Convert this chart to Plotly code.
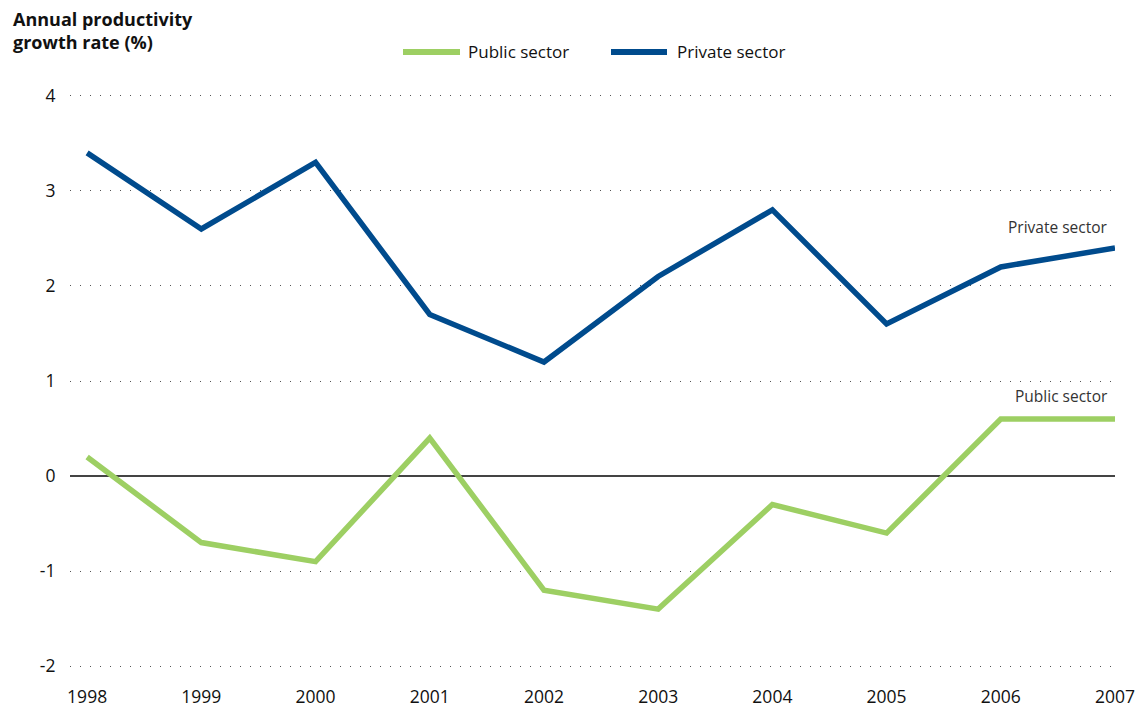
import plotly.graph_objects as go

years = [1998, 1999, 2000, 2001, 2002, 2003, 2004, 2005, 2006, 2007]
public_sector = [0.2, -0.7, -0.9, 0.4, -1.2, -1.4, -0.3, -0.6, 0.6, 0.6]
private_sector = [3.4, 2.6, 3.3, 1.7, 1.2, 2.1, 2.8, 1.6, 2.2, 2.4]
y_ticks = [-2, -1, 0, 1, 2, 3, 4]
series_names = ["Public sector", "Private sector"]

GREEN = "#9dcf63"
BLUE = "#004b8d"
FONT = "Open Sans, Lato, sans-serif"

W, H = 1141, 709
L, R, T, B = 70, 26, 93, 40
PW, PH = W - L - R, H - T - B


def px_x(p):
    return (p - L) / PW


def px_y(p):
    return (H - B - p) / PH


fig = go.Figure()
fig.add_trace(go.Scatter(x=years, y=public_sector, mode="lines", name=series_names[0],
                         line=dict(color=GREEN, width=5.5), cliponaxis=False, showlegend=False))
fig.add_trace(go.Scatter(x=years, y=private_sector, mode="lines", name=series_names[1],
                         line=dict(color=BLUE, width=5.5), cliponaxis=False, showlegend=False))

# end labels
fig.add_annotation(x=years[-1], y=private_sector[-1], text=series_names[1], showarrow=False,
                   xanchor="right", yanchor="bottom", xshift=-5, yshift=8,
                   font=dict(size=15.5, color="#333333", family=FONT))
fig.add_annotation(x=years[-1], y=public_sector[-1], text=series_names[0], showarrow=False,
                   xanchor="right", yanchor="bottom", xshift=-5, yshift=10,
                   font=dict(size=15.5, color="#333333", family=FONT))

# manual legend
legend_items = [(403, 460, 466, GREEN, series_names[0]), (611, 667, 675, BLUE, series_names[1])]
for x0, x1, tx, col, name in legend_items:
    fig.add_shape(type="line", xref="paper", yref="paper", x0=px_x(x0), x1=px_x(x1),
                  y0=px_y(52), y1=px_y(52), line=dict(color=col, width=6))
    fig.add_annotation(xref="paper", yref="paper", x=px_x(tx), y=px_y(52), text=name,
                       showarrow=False, xanchor="left", yanchor="middle",
                       font=dict(size=17, color="#111111", family=FONT))

# title
fig.add_annotation(xref="paper", yref="paper", x=px_x(11), y=px_y(5),
                   text="<b>Annual productivity<br>growth rate (%)</b>", showarrow=False,
                   xanchor="left", yanchor="top", align="left",
                   font=dict(size=18, color="#111111", family=FONT))

fig.update_layout(
    width=W, height=H,
    margin=dict(l=L, r=R, t=T, b=B, autoexpand=False),
    paper_bgcolor="white", plot_bgcolor="white",
    font=dict(family=FONT, size=18, color="#111111"),
    showlegend=False,
    xaxis=dict(range=[1997.85, 2007], tickmode="array", tickvals=years, ticktext=[str(y) for y in years],
               showgrid=False, zeroline=False, showline=False, automargin=False,
               ticks="outside", ticklen=12, tickcolor="rgba(0,0,0,0)", tickfont=dict(size=17.5)),
    yaxis=dict(range=[-2.03, 4.03], tickmode="array", tickvals=y_ticks, ticktext=[str(v) for v in y_ticks],
               showgrid=True, gridcolor="#555555", gridwidth=1, griddash="1px,9px",
               zeroline=True, zerolinecolor="#444444", zerolinewidth=1.5,
               showline=False, automargin=False, ticks="outside", ticklen=10, tickcolor="rgba(0,0,0,0)",
               tickfont=dict(size=17.5)),
)

fig.write_html("out.html")
